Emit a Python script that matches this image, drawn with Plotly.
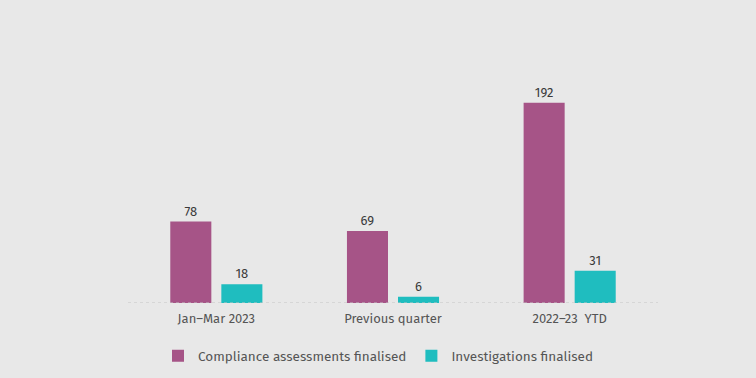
import plotly.graph_objects as go

categories = ["Jan–Mar 2023", "Previous quarter", "2022–23  YTD"]
compliance = [78, 69, 192]
investigations = [18, 6, 31]
series_names = ["Compliance assessments finalised", "Investigations finalised"]

FONT = "Fira Sans, Noto Sans, sans-serif"

fig = go.Figure()
fig.add_trace(go.Bar(
    x=categories, y=compliance, name=series_names[0],
    marker=dict(color="#a65487", line=dict(width=4, color="rgba(0,0,0,0)")),
    text=compliance, textposition="outside", cliponaxis=False,
    textfont=dict(color="#3a3a3a", size=13, family=FONT),
))
fig.add_trace(go.Bar(
    x=categories, y=investigations, name=series_names[1],
    marker=dict(color="#1fbdbf", line=dict(width=4, color="rgba(0,0,0,0)")),
    text=investigations, textposition="outside", cliponaxis=False,
    textfont=dict(color="#3a3a3a", size=13, family=FONT),
))

fig.add_shape(type="line", xref="paper", yref="y", x0=0, x1=1, y0=0, y1=0,
              line=dict(color="#c4c4c4", width=1, dash="dot"))

fig.update_layout(
    width=756, height=378,
    paper_bgcolor="#e8e8e8", plot_bgcolor="#e8e8e8",
    margin=dict(l=128, r=98, t=63, b=75, autoexpand=False),
    barmode="group", bargap=0.422, bargroupgap=0.196,
    font=dict(family=FONT, size=13, color="#555555"),
    xaxis=dict(showgrid=False, showline=False, zeroline=False, ticks="",
               ticklabelstandoff=6, automargin=False,
               tickfont=dict(size=13, color="#555555")),
    yaxis=dict(range=[0, 230], visible=False, showgrid=False, zeroline=False),
    legend=dict(orientation="h", xref="container", yref="container",
                x=0.5, xanchor="center", y=22 / 378, yanchor="middle",
                font=dict(size=13.5, color="#555555"), itemwidth=30,
                traceorder="normal"),
    showlegend=True,
)

fig.write_html("out.html", config={"displayModeBar": False},
               post_script="document.body.style.margin='0';document.body.style.background='#e8e8e8';")
